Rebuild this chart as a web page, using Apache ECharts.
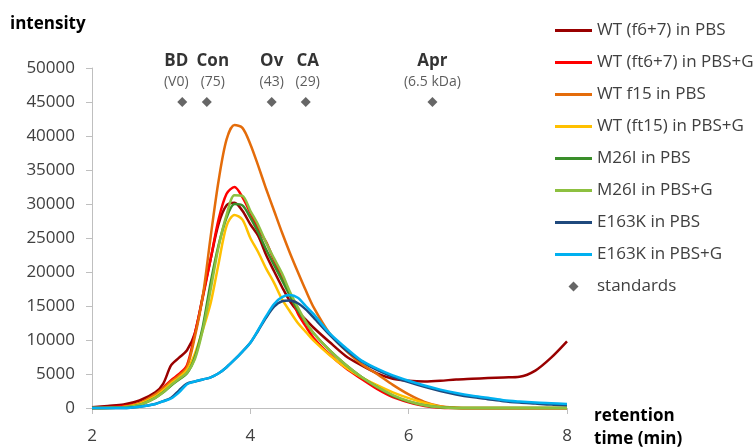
<!DOCTYPE html>
<html>
<head>
<meta charset="utf-8">
<script src="https://cdn.jsdelivr.net/npm/echarts@6/dist/echarts.min.js"></script>
<style>html,body{margin:0;padding:0;background:#fff}#c{width:755px;height:447px}</style>
</head>
<body>
<div id="c"></div>
<script>
const retentionTime = [2.0,2.2,2.4,2.6,2.8,2.9,3.0,3.1,3.2,3.3,3.4,3.5,3.6,3.7,3.8,3.9,4.0,4.1,4.2,4.3,4.4,4.5,4.6,4.7,4.8,5.0,5.2,5.4,5.6,5.8,6.0,6.2,6.4,6.6,6.8,7.0,7.2,7.4,7.6,7.8,8.0];
const wtF67PBS   = [100,300,500,1100,2300,3600,6300,7400,8500,11000,16500,22000,27100,29800,30200,29000,27000,25300,22500,20100,17800,15700,14200,13000,11800,9700,7700,6300,5100,4300,4000,3900,4000,4200,4300,4400,4500,4600,5500,7400,9800];
const wtFt67PBSG = [0,100,300,700,1900,3000,4100,5000,6300,11000,16300,22000,27800,31500,32500,31000,28700,26300,24400,21700,19100,16800,13900,12000,10300,7900,5900,4300,2800,1600,850,300,50,0,-50,-50,-50,-50,-50,-50,-50];
const wtF15PBS   = [0,50,150,700,2000,2900,3900,4800,6000,10500,16500,25300,33500,39500,41600,41200,38800,35600,32200,29000,25800,22800,20000,17300,14800,11000,8500,6500,5000,3400,2000,900,250,50,0,0,0,0,0,0,0];
const wtFt15PBSG = [0,50,150,600,1700,2600,3600,4500,5600,8000,11500,15500,21300,26800,28400,27700,25000,22900,20500,18400,16000,14200,12500,11200,9900,7800,6000,4550,3350,2300,1450,750,200,0,0,0,0,0,0,0,0];
const m26iPBS    = [0,0,100,450,1500,2300,3300,4200,5100,7500,12000,18500,24000,28000,30000,29800,28000,25800,23300,21000,18800,16500,14400,12600,11000,8500,6400,4600,3100,1800,950,400,100,0,0,0,0,0,0,0,0];
const m26iPBSG   = [0,0,100,450,1500,2300,3400,4300,5200,7200,11500,17500,23800,28400,31300,31200,29000,26900,24300,22000,19800,17100,14800,12700,11000,8500,6400,4600,3100,1900,1000,400,100,0,0,0,0,0,0,0,0];
const e163kPBS   = [0,0,0,200,600,1000,1500,2600,3600,3900,4200,4500,5100,6000,7100,8300,9600,11400,13300,14900,15700,15800,15400,14500,13300,10800,8600,6900,5600,4600,3800,3100,2500,2000,1600,1300,1000,800,650,500,400];
const e163kPBSG  = [0,0,0,200,600,1000,1400,2300,3500,3900,4200,4500,5100,6000,7100,8300,9600,11500,13500,15300,16300,16600,16200,15000,13800,11000,8900,7000,5800,4800,4000,3300,2700,2200,1800,1500,1150,950,800,700,600];

const standardNames = ['BD','Con','Ov','CA','Apr'];
const standardSubs  = ['(V0)','(75)','(43)','(29)','(6.5 kDa)'];
const standardTimes = [3.14,3.45,4.27,4.70,6.30];
const standardLevel = [45000,45000,45000,45000,45000];

const seriesNames = ['WT (f6+7) in PBS','WT (ft6+7) in PBS+G','WT f15 in PBS','WT (ft15) in PBS+G','M26I in PBS','M26I in PBS+G','E163K in PBS','E163K in PBS+G'];
const seriesValues = [wtF67PBS,wtFt67PBSG,wtF15PBS,wtFt15PBSG,m26iPBS,m26iPBSG,e163kPBS,e163kPBSG];
const seriesColors = ['#990000','#FF0000','#E46C0A','#FFC000','#3A8E2A','#8DC040','#1F497D','#00B0F0'];

const FONT = 'Open Sans';
const labelShift = [[-6,0],[6,0],[0,0],[2,0],[0,0]];
const lineSeries = seriesNames.map((n,i)=>({
  name:n, type:'line', symbol:'none', showSymbol:false, smooth:0.3, clip:false,
  data: retentionTime.map((t,j)=>[t, seriesValues[i][j]]),
  lineStyle:{width:2.5, color:seriesColors[i]}, itemStyle:{color:seriesColors[i]}
}));

const chart = echarts.init(document.getElementById('c'));
chart.setOption({
  animation:false,
  textStyle:{fontFamily:FONT},
  grid:{left:92,right:188,top:68,bottom:39},
  xAxis:{type:'value',min:2,max:8,interval:2,
    axisLine:{lineStyle:{color:'#BFBFBF',width:1}},
    axisTick:{show:true,length:6,lineStyle:{color:'#BFBFBF'}},
    splitLine:{show:false},
    axisLabel:{color:'#404040',fontSize:17,margin:20,fontFamily:FONT}},
  yAxis:{type:'value',min:0,max:50000,interval:5000,
    axisLine:{show:true,lineStyle:{color:'#BFBFBF',width:1}},
    axisTick:{show:true,length:6,lineStyle:{color:'#BFBFBF'}},
    splitLine:{show:false},
    axisLabel:{color:'#404040',fontSize:17,margin:17,fontFamily:FONT,formatter:v=>String(v)}},
  legend:{orient:'vertical',left:555,top:22,padding:0,itemWidth:37,itemHeight:10,itemGap:15,
    textStyle:{fontSize:17,color:'#404040',fontFamily:FONT},
    data: seriesNames.map(n=>({name:n,icon:'path://M0,0 L37,0 L37,3 L0,3 Z'})).concat([{name:'standards',icon:'path://M5,0 L10,5 L5,10 L0,5 Z'}])},
  graphic:[
    {type:'text',left:10,top:16,style:{text:'intensity',font:'bold 17px "Open Sans"',fill:'#000'}},
    {type:'text',left:594,top:408,style:{text:'retention',font:'bold 17px "Open Sans"',fill:'#000'}},
    {type:'text',left:594,top:431,style:{text:'time (min)',font:'bold 17px "Open Sans"',fill:'#000'}}
  ],
  series: lineSeries.concat([{
    name:'standards',type:'scatter',symbol:'diamond',symbolSize:10,
    itemStyle:{color:'#404040'},
    data: standardTimes.map((t,i)=>({value:[t,standardLevel[i]],name:standardNames[i],label:{offset:labelShift[i]}})),
    label:{show:true,position:'top',distance:5,
      formatter:p=>'{n|'+standardNames[p.dataIndex]+'}\n{s|'+standardSubs[p.dataIndex]+'}',
      rich:{n:{fontSize:17,fontWeight:'bold',color:'#000',lineHeight:22,fontFamily:FONT,align:'center'},
            s:{fontSize:14,color:'#333',lineHeight:20,fontFamily:FONT,align:'center'}}}
  }])
});
</script>
</body>
</html>
